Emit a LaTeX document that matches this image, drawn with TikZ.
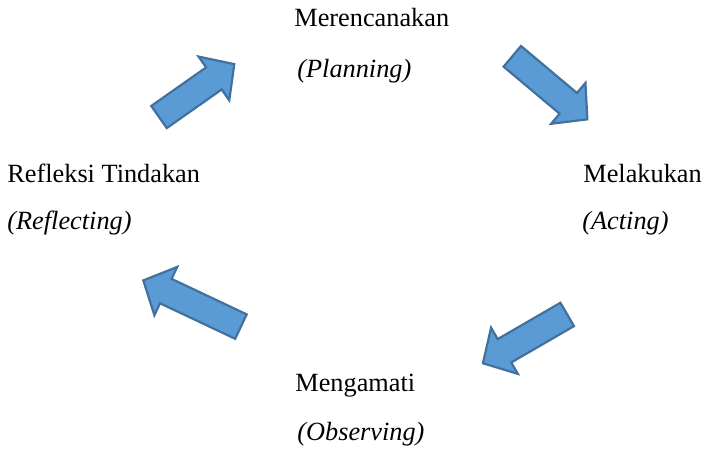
\documentclass[tikz,border=0pt]{standalone}
\usepackage{fontspec}
\setmainfont{Liberation Serif}
\usepackage{tikz}
\usetikzlibrary{shapes.arrows}

\definecolor{arrowfill}{HTML}{5B9BD5}
\definecolor{arrowline}{HTML}{41719C}

\begin{document}
\begin{tikzpicture}[x=0.5pt, y=0.5pt,
    stagetext/.style={anchor=base west, inner sep=0, font=\fontsize{13.15}{15}\selectfont},
    engtext/.style={stagetext, font=\fontsize{13.15}{15}\selectfont\itshape},
    cyclearrow/.style={single arrow, fill=arrowfill, draw=arrowline, line width=1.1pt,
      inner xsep=0, inner ysep=6.2pt, single arrow head extend=6.6pt,
      single arrow tip angle=94}]
  \useasboundingbox (0,0) rectangle (705,449);

  % Stages of the cycle
  \node[stagetext] (plan) at (294,422) {Merencanakan};
  \node[engtext] (planEn) at (297,371) {(Planning)};
  \node[stagetext] (act) at (583,266) {Melakukan};
  \node[engtext] (actEn) at (582,219) {(Acting)};
  \node[stagetext] (obs) at (295,57) {Mengamati};
  \node[engtext] (obsEn) at (297,9) {(Observing)};
  \node[stagetext] (refl) at (7,266) {Refleksi Tindakan};
  \node[engtext] (reflEn) at (7,219) {(Reflecting)};

  % Block arrows between the stages
  \node[cyclearrow, minimum height=46pt, rotate=35.1] (arrPlan) at (191.5,354.8) {};
  \node[cyclearrow, minimum height=49pt, rotate=-40] (arrAct) at (545,365.2) {};
  \node[cyclearrow, minimum height=48.7pt, rotate=210.1] (arrObs) at (530.5,113.3) {};
  \node[cyclearrow, minimum height=54pt, rotate=154.7] (arrRefl) at (197.8,142.8) {};
\end{tikzpicture}
\end{document}
